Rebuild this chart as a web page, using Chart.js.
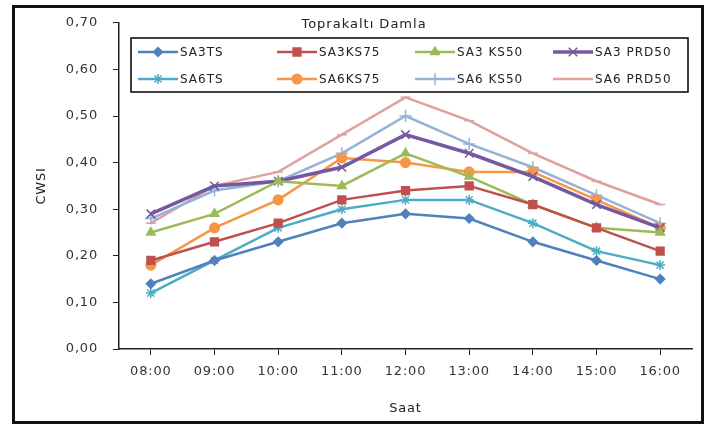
<!DOCTYPE html>
<html>
<head>
<meta charset="utf-8">
<script src="https://cdn.jsdelivr.net/npm/chart.js@4/dist/chart.umd.min.js"></script>
<style>
  html, body { margin: 0; padding: 0; background: #fff; }
  #wrap { position: relative; width: 705px; height: 428px; }
</style>
</head>
<body>
<div id="wrap"><canvas id="c" width="705" height="428"></canvas></div>
<script>
// hours on the x axis
const hours = ['08:00', '09:00', '10:00', '11:00', '12:00', '13:00', '14:00', '15:00', '16:00'];

// CWSI values per treatment
const sa3ts    = [0.14, 0.19, 0.23, 0.27, 0.29, 0.28, 0.23, 0.19, 0.15];
const sa3ks75  = [0.19, 0.23, 0.27, 0.32, 0.34, 0.35, 0.31, 0.26, 0.21];
const sa3ks50  = [0.25, 0.29, 0.36, 0.35, 0.42, 0.37, 0.31, 0.26, 0.25];
const sa3prd50 = [0.29, 0.35, 0.36, 0.39, 0.46, 0.42, 0.37, 0.31, 0.26];
const sa6ts    = [0.12, 0.19, 0.26, 0.30, 0.32, 0.32, 0.27, 0.21, 0.18];
const sa6ks75  = [0.18, 0.26, 0.32, 0.41, 0.40, 0.38, 0.38, 0.32, 0.26];
const sa6ks50  = [0.28, 0.34, 0.36, 0.42, 0.50, 0.44, 0.39, 0.33, 0.27];
const sa6prd50 = [0.27, 0.35, 0.38, 0.46, 0.54, 0.49, 0.42, 0.36, 0.31];

const FONT = '"DejaVu Sans", sans-serif';

function series(label, data, color, style, radius, width) {
  return {
    label: label,
    data: data,
    borderColor: color,
    backgroundColor: color,
    pointBackgroundColor: color,
    pointBorderColor: color,
    pointStyle: style,
    pointRadius: radius,
    pointBorderWidth: 1.5,
    borderWidth: width || 2.5,
    tension: 0
  };
}

// the Excel text looks spaced out, so add a little letter spacing everywhere
const spacing = {
  id: 'spacing',
  beforeDraw(chart) { chart.ctx.letterSpacing = '0.8px'; }
};

// legend is drawn inside the plot (like the Excel original)
const insideLegend = {
  id: 'insideLegend',
  afterDraw(chart) {
    const ctx = chart.ctx;
    ctx.save();
    // title
    ctx.letterSpacing = '1px';
    ctx.fillStyle = '#222';
    ctx.font = '13px ' + FONT;
    ctx.textAlign = 'center';
    ctx.textBaseline = 'middle';
    ctx.fillText('Toprakaltı Damla', 364, 25);

    // legend box
    const bx = 131, by = 38, bw = 557, bh = 54;
    ctx.fillStyle = '#fff';
    ctx.fillRect(bx, by, bw, bh);
    ctx.strokeStyle = '#000';
    ctx.lineWidth = 1.5;
    ctx.strokeRect(bx, by, bw, bh);

    const cols = [138, 277, 415, 553];
    const rows = [52, 79];
    ctx.textAlign = 'left';
    ctx.letterSpacing = '1px';
    ctx.font = '12px ' + FONT;
    chart.data.datasets.forEach((ds, i) => {
      const x = cols[i % 4], y = rows[Math.floor(i / 4)];
      ctx.strokeStyle = ds.borderColor;
      ctx.lineWidth = ds.borderWidth;
      ctx.beginPath();
      ctx.moveTo(x, y);
      ctx.lineTo(x + 40, y);
      ctx.stroke();
      ctx.fillStyle = ds.borderColor;
      ctx.lineWidth = ds.pointBorderWidth;
      Chart.helpers.drawPoint(ctx, {
        pointStyle: ds.pointStyle, radius: ds.pointRadius, rotation: 0, borderWidth: ds.pointBorderWidth
      }, x + 20, y);
      ctx.fillStyle = '#222';
      ctx.fillText(ds.label, x + 42, y + 1);
    });
    ctx.restore();
  }
};

const frame = {
  id: 'frame',
  afterDraw(chart) {
    const ctx = chart.ctx;
    ctx.save();
    ctx.strokeStyle = '#111';
    ctx.lineWidth = 3;
    ctx.strokeRect(13.5, 6.5, 689, 416);
    ctx.restore();
  }
};

new Chart(document.getElementById('c'), {
  type: 'line',
  data: {
    labels: hours,
    datasets: [
      series('SA3TS', sa3ts, '#4F81BD', 'rectRot', 4.5),
      series('SA3KS75', sa3ks75, '#C0504D', 'rect', 5.5),
      series('SA3 KS50', sa3ks50, '#9BBB59', 'triangle', 5),
      series('SA3 PRD50', sa3prd50, '#7459A0', 'crossRot', 6, 3.5),
      series('SA6TS', sa6ts, '#4BACC6', 'star', 5),
      series('SA6KS75', sa6ks75, '#F79646', 'circle', 4.8),
      series('SA6 KS50', sa6ks50, '#95B3D7', 'cross', 6),
      series('SA6 PRD50', sa6prd50, '#E0A09E', 'line', 5)
    ]
  },
  options: {
    responsive: false,
    animation: false,
    layout: { padding: { left: 0, top: 20, right: 13, bottom: 0 } },
    plugins: {
      legend: { display: false },
      title: { display: false },
      tooltip: { enabled: false }
    },
    scales: {
      x: {
        offset: true,
        afterFit: (s) => { s.height = 79; },
        grid: { drawOnChartArea: false, tickLength: 6, color: '#222', offset: false },
        border: { color: '#222', width: 1.5 },
        ticks: { color: '#333', font: { family: FONT, size: 13 }, padding: 9, maxRotation: 0 },
        title: { display: true, text: 'Saat', color: '#222', font: { family: FONT, size: 13 }, padding: { top: 0, bottom: 12 } }
      },
      y: {
        min: 0,
        max: 0.7,
        afterFit: (s) => { s.width = 119; },
        grid: { drawOnChartArea: false, tickLength: 6, color: '#222' },
        border: { color: '#222', width: 1.5 },
        ticks: {
          stepSize: 0.1,
          color: '#333',
          font: { family: FONT, size: 13 },
          padding: 15,
          callback: (v) => v.toFixed(2).replace('.', ',')
        },
        title: { display: true, text: 'CWSI', color: '#222', font: { family: FONT, size: 13 }, padding: { top: 34, bottom: 0 } }
      }
    }
  },
  plugins: [spacing, insideLegend, frame]
});
</script>
</body>
</html>
